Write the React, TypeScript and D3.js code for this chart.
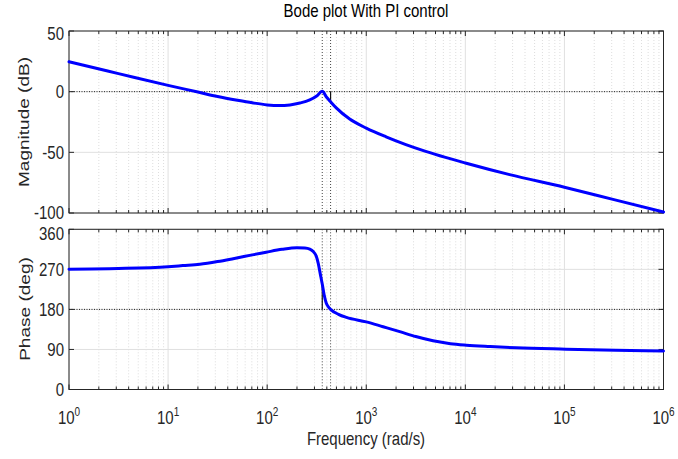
import React from 'react';
import * as d3 from 'd3';

// ---- data ----
const magFreq = [1, 3.16, 10, 20, 31.6, 50.1, 70.8, 100, 131.8, 169.8, 213.8, 269.2, 316.2, 359.7, 398.1, 438.5, 501.2, 680.8, 1000, 1585, 2512, 3981, 6310, 10000, 28000, 100000, 316200, 1000000];
const magDb = [24.6, 14.9, 5.2, -0.3, -4.0, -7.1, -9.2, -10.9, -11.5, -10.9, -9.4, -6.8, -3.5, 0.3, -4.6, -8.5, -13.6, -22.6, -30, -37.2, -43.6, -49.2, -54.2, -58.8, -68.4, -78.8, -89, -99.2];

const phaseFreq = [1, 3.16, 10, 14.1, 20.9, 31.6, 45.4, 70.8, 97.7, 141.3, 199.5, 239.9, 269.2, 291.7, 312.6, 327.3, 342.8, 359.7, 375.8, 393.6, 412.1, 436.5, 524.8, 631, 1000, 1479, 2178, 3162, 4721, 7079, 10233, 17780, 32660, 103700, 331100, 1000000];
const phaseDeg = [270.5, 272, 276, 278.5, 281.5, 287.5, 294, 302.5, 308.5, 315, 318.6, 318, 315.5, 310, 300, 284, 261, 237, 213, 195, 186.5, 180, 169, 162, 152, 141, 130, 119, 109.5, 103, 99.7, 96.5, 93.6, 90.7, 88.4, 86.5];

const magTicks = [50, 0, -50, -100];
const phaseTicks = [0, 90, 180, 270, 360];
const decadeExps = [0, 1, 2, 3, 4, 5, 6];

const gainCrossoverFreq = 359.7;
const phaseAtGainCrossover = 237;
const phaseCrossoverFreq = 436.5;
const magAtPhaseCrossover = -8.5;

const titleText = 'Bode plot With PI control';
const xLabel = 'Frequency  (rad/s)';
const magLabel = 'Magnitude (dB)';
const phaseLabel = 'Phase (deg)';

// ---- layout ----
const W = 678, H = 459;
const L = 69, R = 663.5;
const magTop = 31, magBottom = 213;
const phTop = 229.3, phBottom = 389.5;
const SY = 1.27;
const FONT = '"Liberation Sans", Arial, Helvetica, sans-serif';
const AX = '#262626';

const x = d3.scaleLog().domain([1, 1e6]).range([L, R]);
const yMag = d3.scaleLinear().domain([-100, 50]).range([magBottom, magTop]);
const yPh = d3.scaleLinear().domain([0, 360]).range([phBottom, phTop]);

const majorFreqs = decadeExps.map((e) => Math.pow(10, e));
const minorFreqs: number[] = [];
decadeExps.slice(0, -1).forEach((e) => {
  for (let m = 2; m <= 9; m++) minorFreqs.push(m * Math.pow(10, e));
});

function HText({ x0, y0, size, anchor = 'middle', children, fill = AX }: any) {
  return (
    <text transform={`translate(${x0},${y0}) scale(1,${SY})`} fontSize={size} textAnchor={anchor} fill={fill} fontFamily={FONT}>
      {children}
    </text>
  );
}

function VText({ x0, y0, size, children }: any) {
  return (
    <text transform={`translate(${x0},${y0}) rotate(-90) scale(${SY},1)`} fontSize={size} textAnchor="middle" fill={AX} fontFamily={FONT}>
      {children}
    </text>
  );
}

function Panel({ y, ticks, top, bottom, topTick, bottomTick, topShift, bottomShift }: any) {
  return (
    <g>
      {minorFreqs.map((f) => (
        <line key={'mg' + f} x1={x(f)} x2={x(f)} y1={top} y2={bottom} stroke="#d4d4d4" strokeWidth={0.8} strokeDasharray="1,2" />
      ))}
      {majorFreqs.map((f) => (
        <line key={'Mg' + f} x1={x(f)} x2={x(f)} y1={top} y2={bottom} stroke="#e0e0e0" strokeWidth={1} />
      ))}
      {ticks.map((t: number) => (
        <line key={'hg' + t} x1={L} x2={R} y1={y(t)} y2={y(t)} stroke="#e0e0e0" strokeWidth={1} />
      ))}
      <rect x={L} y={top} width={R - L} height={bottom - top} fill="none" stroke={AX} strokeWidth={1} />
      {majorFreqs.map((f) => (
        <g key={'xt' + f}>
          <line x1={x(f)} x2={x(f)} y1={top} y2={top + 5} stroke={AX} />
          <line x1={x(f)} x2={x(f)} y1={bottom} y2={bottom - 5} stroke={AX} />
        </g>
      ))}
      {minorFreqs.map((f) => (
        <g key={'xm' + f}>
          <line x1={x(f)} x2={x(f)} y1={top} y2={top + 3} stroke={AX} />
          <line x1={x(f)} x2={x(f)} y1={bottom} y2={bottom - 3} stroke={AX} />
        </g>
      ))}
      {ticks.map((t: number) => {
        const shift = t === topTick ? topShift : t === bottomTick ? bottomShift : 0;
        return (
          <g key={'yt' + t}>
            <line x1={L} x2={L + 5} y1={y(t)} y2={y(t)} stroke={AX} />
            <line x1={R} x2={R - 5} y1={y(t)} y2={y(t)} stroke={AX} />
            <HText x0={64} y0={y(t) + 6.8 + shift} size={15} anchor="end">{String(t)}</HText>
          </g>
        );
      })}
    </g>
  );
}

export default function App() {
  const magPts: [number, number][] = magFreq.map((f, i) => [x(f), yMag(magDb[i])]);
  const phPts: [number, number][] = phaseFreq.map((f, i) => [x(f), yPh(phaseDeg[i])]);
  const line = d3.line().curve(d3.curveMonotoneX);
  const peak = magDb.indexOf(Math.max(...magDb));
  const magPath = (line(magPts.slice(0, peak + 1)) || '') + (line(magPts.slice(peak)) || '');
  const phPath = line(phPts) || '';

  const xc = x(gainCrossoverFreq);
  const xp = x(phaseCrossoverFreq);

  return (
    <svg width={W} height={H} style={{ position: 'absolute', left: 0, top: 0, background: '#fff' }}>
      <rect x={0} y={0} width={W} height={H} fill="#fff" />
      <Panel y={yMag} ticks={magTicks} top={magTop} bottom={magBottom} topTick={50} bottomTick={-100} topShift={2.5} bottomShift={-1} />
      <Panel y={yPh} ticks={phaseTicks} top={phTop} bottom={phBottom} topTick={360} bottomTick={0} topShift={4} bottomShift={0} />

      <line x1={L} x2={R} y1={yMag(0)} y2={yMag(0)} stroke="#222" strokeWidth={1} strokeDasharray="1,1.5" />
      <line x1={L} x2={R} y1={yPh(180)} y2={yPh(180)} stroke="#222" strokeWidth={1} strokeDasharray="1,1.5" />
      {[xc, xp].map((xv, i) => (
        <g key={'vd' + i}>
          <line x1={xv} x2={xv} y1={magTop} y2={magBottom} stroke="#444" strokeWidth={1} strokeDasharray="1,2" />
          <line x1={xv} x2={xv} y1={phTop} y2={phBottom} stroke="#444" strokeWidth={1} strokeDasharray="1,2" />
        </g>
      ))}
      <line x1={xp} x2={xp} y1={yMag(0)} y2={yMag(magAtPhaseCrossover)} stroke="#111" strokeWidth={1.2} />
      <line x1={xc} x2={xc} y1={yPh(180)} y2={yPh(phaseAtGainCrossover)} stroke="#111" strokeWidth={1.2} />

      <path d={magPath} fill="none" stroke="#0000ff" strokeWidth={3} strokeLinejoin="round" strokeLinecap="round" />
      <path d={phPath} fill="none" stroke="#0000ff" strokeWidth={3} strokeLinejoin="round" strokeLinecap="round" />

      {decadeExps.map((e) => (
        <HText key={'xl' + e} x0={x(Math.pow(10, e))} y0={424} size={15}>
          10<tspan fontSize={10} dy={-6}>{e}</tspan>
        </HText>
      ))}

      <HText x0={366} y0={16.7} size={15} fill="#000">{titleText}</HText>
      <HText x0={366} y0={445} size={15}>{xLabel}</HText>
      <VText x0={28.5} y0={122} size={15}>{magLabel}</VText>
      <VText x0={29.5} y0={309} size={15}>{phaseLabel}</VText>
    </svg>
  );
}
